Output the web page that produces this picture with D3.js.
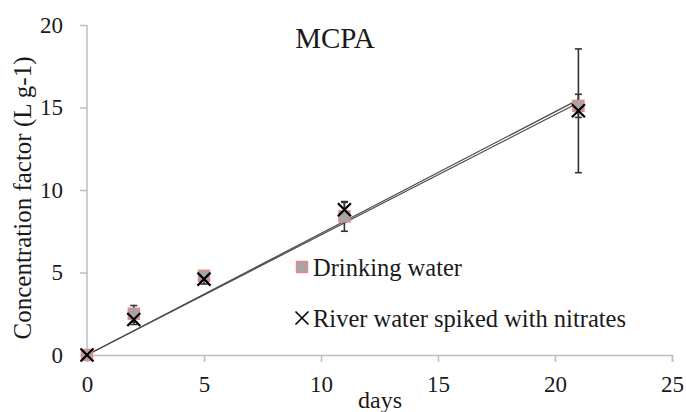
<!DOCTYPE html>
<html><head><meta charset="utf-8">
<script src="https://cdn.jsdelivr.net/npm/d3@7"></script>
<style>body{margin:0;background:#fff}svg{display:block}text{font-family:"Liberation Serif",serif;fill:#1a1a1a}</style>
</head><body><svg id="c" width="686" height="412"></svg>
<script>
const days = [0, 2, 5, 11, 21];
const drinking = [0, 2.5, 4.8, 8.4, 15.1];
const drinkingErr = [0, 0.5, 0.25, 0.9, 0.7];
const river = [0, 2.15, 4.6, 8.8, 14.8];
const riverErr = [0, 0.3, 0.3, 0.45, 3.75];
const trendSlopes = [0.728, 0.737];
const xTicks = [0, 5, 10, 15, 20, 25];
const yTicks = [0, 5, 10, 15, 20];
const seriesNames = ["Drinking water", "River water spiked with nitrates"];

const FONT = "Liberation Serif, serif";
const svg = d3.select("#c");
const x = d3.scaleLinear().domain([0, 25]).range([87, 672]);
const y = d3.scaleLinear().domain([0, 20]).range([355, 25]);
const axisColor = "#bfbfbf";

const xa = svg.append("g").attr("transform", `translate(0,${y(0)})`)
  .call(d3.axisBottom(x).tickValues(xTicks).tickSize(7).tickPadding(14).tickFormat(d3.format("d")));
const ya = svg.append("g").attr("transform", `translate(${x(0)},0)`)
  .call(d3.axisLeft(y).tickValues(yTicks).tickSize(7).tickPadding(17).tickFormat(d3.format("d")));
[xa, ya].forEach(a => {
  a.attr("font-family", FONT).attr("font-size", 23);
  a.select(".domain").attr("stroke", axisColor).attr("stroke-width", 1.5);
  a.selectAll(".tick line").attr("stroke", axisColor).attr("stroke-width", 1.5);
  a.selectAll(".tick text").attr("font-family", FONT).attr("font-size", 23).attr("fill", "#1a1a1a");
});
ya.select(".domain").attr("d", `M0,${y(20)}V${y(0)}`);
ya.selectAll(".tick line").attr("x2", -7);

// trend lines
trendSlopes.forEach(s => {
  svg.append("line").attr("x1", x(0)).attr("y1", y(0)).attr("x2", x(21)).attr("y2", y(s * 21))
    .attr("stroke", "#4a4a4a").attr("stroke-width", 1.2);
});

// error bars
function errBars(vals, errs) {
  days.forEach((d, i) => {
    if (!errs[i]) return;
    const g = svg.append("g").attr("stroke", "#333").attr("stroke-width", 1.6);
    g.append("line").attr("x1", x(d)).attr("x2", x(d)).attr("y1", y(vals[i] - errs[i])).attr("y2", y(vals[i] + errs[i]));
    [vals[i] - errs[i], vals[i] + errs[i]].forEach(v =>
      g.append("line").attr("x1", x(d) - 3.5).attr("x2", x(d) + 3.5).attr("y1", y(v)).attr("y2", y(v)));
  });
}
errBars(drinking, drinkingErr);
errBars(river, riverErr);

// markers
function square(g, cx, cy) {
  g.append("rect").attr("x", cx - 5.5).attr("y", cy - 5.5).attr("width", 11).attr("height", 11)
    .attr("fill", "#a5a5a5").attr("stroke", "#e58a8a").attr("stroke-width", 1.5);
}
function cross(g, cx, cy, r, w) {
  g.append("path").attr("d", `M${cx - r},${cy - r}L${cx + r},${cy + r}M${cx - r},${cy + r}L${cx + r},${cy - r}`)
    .attr("stroke", "#000").attr("stroke-width", w).attr("fill", "none");
}
days.forEach((d, i) => square(svg, x(d), y(drinking[i])));
days.forEach((d, i) => cross(svg, x(d), y(river[i]), 6.5, 2.2));

// title
svg.append("text").attr("x", 335).attr("y", 48).attr("text-anchor", "middle").attr("font-family", FONT).attr("font-size", 29).text("MCPA");

// legend
square(svg, 302, 267);
svg.append("text").attr("x", 313).attr("y", 276).attr("font-family", FONT).attr("font-size", 24.5).text(seriesNames[0]);
cross(svg, 302, 318, 6.5, 1.6);
svg.append("text").attr("x", 313).attr("y", 327).attr("font-family", FONT).attr("font-size", 24.5).text(seriesNames[1]);

// axis titles
svg.append("text").attr("x", 380).attr("y", 408).attr("text-anchor", "middle").attr("font-family", FONT).attr("font-size", 24).text("days");
svg.append("text").attr("transform", "translate(31,198) rotate(-90)").attr("text-anchor", "middle").attr("font-family", FONT).attr("font-size", 25).text("Concentration factor (L g-1)");
</script></body></html>
